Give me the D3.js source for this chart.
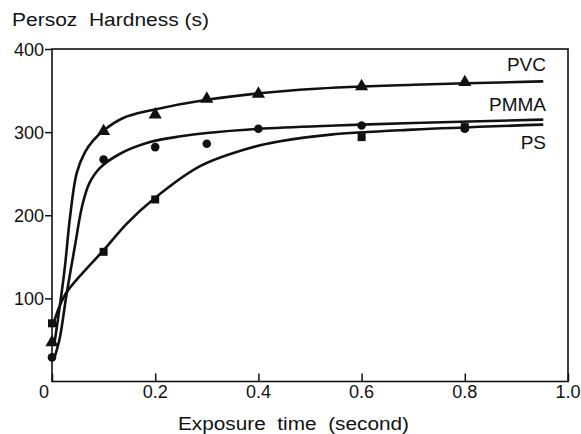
<!DOCTYPE html>
<html>
<head>
<meta charset="utf-8">
<script src="https://cdn.jsdelivr.net/npm/d3@7"></script>
<style>
  html, body { margin: 0; padding: 0; background: #fff; }
  svg { display: block; }
  text { font-family: "Liberation Sans", Arial, Helvetica, sans-serif; fill: #111; }
</style>
</head>
<body>
<svg id="chart" width="581" height="434"></svg>
<script>
// Measured hardness points (exposure time in s, Persoz hardness in s)
const pvcPoints  = [[0, 47], [0.1, 301], [0.2, 321], [0.3, 340], [0.4, 346], [0.6, 355], [0.8, 360]];
const pmmaPoints = [[0, 29], [0.1, 267], [0.2, 282], [0.3, 286], [0.4, 304], [0.6, 308], [0.8, 304]];
const psPoints   = [[0, 70], [0.1, 156], [0.2, 219], [0.6, 294], [0.8, 306]];

// Smoothed trend curves through each series
const pvcCurve  = [[0.005, 47], [0.015, 90], [0.025, 138], [0.035, 198], [0.048, 251], [0.064, 276],
                   [0.08, 290], [0.1, 302], [0.138, 317], [0.19, 326], [0.3, 339], [0.48, 351],
                   [0.7, 357], [0.95, 361]];
const pmmaCurve = [[0.005, 29], [0.015, 52], [0.028, 104], [0.045, 165], [0.058, 210], [0.072, 238],
                   [0.093, 257], [0.132, 274], [0.19, 288], [0.25, 295], [0.3, 299], [0.4, 304],
                   [0.55, 308], [0.7, 311], [0.95, 315]];
const psCurve   = [[0.004, 72], [0.015, 91], [0.028, 107], [0.06, 131], [0.1, 158], [0.145, 190],
                   [0.196, 219], [0.287, 259], [0.384, 281], [0.442, 289], [0.54, 297], [0.7, 303],
                   [0.95, 309]];

const seriesNames = ["PVC", "PMMA", "PS"];
const seriesLabelValues = [374, 326, 280];   // vertical placement of the curve names, in hardness units

const xTicks = [0, 0.2, 0.4, 0.6, 0.8, 1.0];
const xTickLabels = ["0", "0.2", "0.4", "0.6", "0.8", "1.0"];
const yTicks = [100, 200, 300, 400];
const yTickLabels = ["100", "200", "300", "400"];

const yTitle = "Persoz  Hardness (s)";
const xTitle = "Exposure  time  (second)";

const svg = d3.select("#chart");
const x = d3.scaleLinear().domain([0, 1]).range([52, 568]);
const y = d3.scaleLinear().domain([0, 400]).range([381.5, 49]);

// Frame
svg.append("rect")
  .attr("x", x(0)).attr("y", y(400))
  .attr("width", x(1) - x(0)).attr("height", y(0) - y(400))
  .attr("fill", "none").attr("stroke", "#111").attr("stroke-width", 1.6);

// X axis: ticks point into the plot
const xAxis = d3.axisTop(x).tickValues(xTicks).tickSize(8).tickFormat("");
svg.append("g").attr("transform", `translate(0,${y(0)})`).call(xAxis)
  .call(g => g.select(".domain").remove())
  .call(g => g.selectAll("line").attr("stroke", "#111").attr("stroke-width", 1.5));

svg.append("g").selectAll("text").data(xTicks).join("text")
  .attr("x", (d, i) => x(d) + (i === 0 ? -8 : 0))
  .attr("y", 398)
  .attr("text-anchor", "middle")
  .attr("font-size", 18)
  .text((d, i) => xTickLabels[i]);

// Y axis: ticks point outward
const yAxis = d3.axisLeft(y).tickValues(yTicks).tickSize(7).tickFormat("");
svg.append("g").attr("transform", `translate(${x(0)},0)`).call(yAxis)
  .call(g => g.select(".domain").remove())
  .call(g => g.selectAll("line").attr("stroke", "#111").attr("stroke-width", 1.5));

svg.append("g").selectAll("text").data(yTicks).join("text")
  .attr("x", 44)
  .attr("y", d => y(d) + 6.5)
  .attr("text-anchor", "end")
  .attr("font-size", 18)
  .text((d, i) => yTickLabels[i]);

// Axis titles
svg.append("text")
  .attr("x", 12).attr("y", 26)
  .attr("font-size", 18)
  .attr("textLength", 197).attr("lengthAdjust", "spacingAndGlyphs")
  .style("white-space", "pre")
  .text(yTitle);

svg.append("text")
  .attr("x", 178).attr("y", 430)
  .attr("font-size", 18)
  .attr("textLength", 231).attr("lengthAdjust", "spacingAndGlyphs")
  .style("white-space", "pre")
  .text(xTitle);

// Trend curves
const line = d3.line().x(d => x(d[0])).y(d => y(d[1])).curve(d3.curveCatmullRom.alpha(0.5));
[pvcCurve, pmmaCurve, psCurve].forEach(c => {
  svg.append("path").datum(c)
    .attr("d", line)
    .attr("fill", "none")
    .attr("stroke", "#111")
    .attr("stroke-width", 2.6)
    .attr("stroke-linejoin", "round")
    .attr("stroke-linecap", "round");
});

// Markers
svg.append("g").selectAll("path").data(pvcPoints).join("path")
  .attr("transform", d => `translate(${x(d[0])},${y(d[1])})`)
  .attr("d", d3.symbol(d3.symbolTriangle, 75))
  .attr("fill", "#111");

svg.append("g").selectAll("circle").data(pmmaPoints).join("circle")
  .attr("cx", d => x(d[0])).attr("cy", d => y(d[1]))
  .attr("r", 4.3)
  .attr("fill", "#111");

svg.append("g").selectAll("rect").data(psPoints).join("rect")
  .attr("x", d => x(d[0]) - 4).attr("y", d => y(d[1]) - 4)
  .attr("width", 8).attr("height", 8)
  .attr("fill", "#111");

// Curve names at the right end
svg.append("g").selectAll("text").data(seriesNames).join("text")
  .attr("x", 546)
  .attr("y", (d, i) => y(seriesLabelValues[i]))
  .attr("text-anchor", "end")
  .attr("font-size", 19)
  .text(d => d);
</script>
</body>
</html>
